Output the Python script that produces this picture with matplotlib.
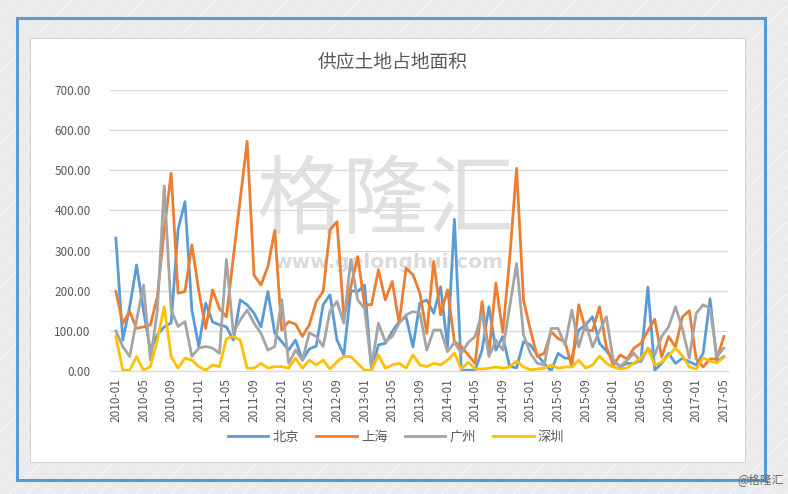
import matplotlib
matplotlib.use("Agg")
import matplotlib.pyplot as plt
from matplotlib.lines import Line2D
from matplotlib.patches import Rectangle
import numpy as np
import pandas as pd

plt.rcParams['font.family'] = ['Noto Sans CJK SC', 'DejaVu Sans']

title = "供应土地占地面积"
months = [str(p) for p in pd.period_range("2010-01", "2017-05", freq="M")]
tick_labels = months[::4]

beijing = [331, 77, 160, 264, 150, 52, 90, 110, 120, 352, 422, 152, 61, 169, 122,
           115, 110, 77, 177, 165, 144, 110, 198, 94, 73, 52, 77, 27, 55, 62,
           165, 190, 77, 40, 200, 198, 214, 2, 65, 69, 98, 123, 135, 60, 169,
           177, 144, 210, 60, 378, 2, 2, 2, 52, 160, 52, 86, 11, 8, 73,
           65, 40, 19, 0, 44, 32, 32, 102, 115, 135, 69, 50, 27, 11, 19,
           19, 27, 209, 2, 19, 44, 19, 32, 23, 15, 44, 180, 23, 36]
shanghai = [198, 119, 148, 106, 110, 115, 185, 352, 493, 194, 198, 314, 200, 106, 202,
            155, 135, 283, 428, 572, 239, 214, 260, 350, 102, 123, 117, 86, 115, 173,
            198, 352, 372, 135, 210, 285, 165, 165, 252, 177, 223, 119, 256, 240, 194,
            94, 273, 140, 202, 73, 61, 40, 19, 173, 44, 219, 96, 280, 505, 177,
            102, 36, 44, 98, 81, 73, 11, 165, 102, 100, 160, 60, 15, 40, 30,
            57, 69, 100, 129, 35, 86, 60, 135, 150, 30, 10, 30, 30, 86]
guangzhou = [100, 61, 36, 127, 214, 27, 150, 461, 152, 111, 123, 36, 57, 61, 57,
             44, 278, 94, 127, 152, 119, 94, 52, 61, 178, 19, 52, 27, 95, 86,
             61, 150, 173, 119, 278, 177, 156, 11, 119, 73, 86, 119, 140, 148, 144,
             52, 102, 102, 48, 71, 44, 71, 86, 144, 36, 77, 52, 160, 268, 90,
             44, 19, 15, 106, 106, 65, 152, 60, 120, 60, 100, 135, 25, 11, 27,
             44, 23, 57, 40, 86, 110, 160, 106, 32, 144, 165, 156, 36, 57]
shenzhen = [86, 2, 2, 36, 2, 11, 77, 160, 36, 7, 32, 27, 11, 2, 15,
            11, 81, 86, 77, 7, 7, 19, 7, 11, 11, 7, 32, 7, 27, 15,
            27, 5, 23, 36, 36, 19, 2, 2, 40, 7, 15, 19, 7, 40, 15,
            11, 19, 15, 27, 45, 5, 22, 5, 5, 7, 10, 7, 10, 25, 10,
            3, 5, 7, 15, 7, 10, 10, 27, 7, 15, 37, 19, 10, 5, 8,
            20, 33, 55, 15, 22, 38, 57, 38, 10, 5, 32, 25, 20, 34]

series = [("北京", beijing, "#5b9bd5"),
          ("上海", shanghai, "#ed7d31"),
          ("广州", guangzhou, "#a5a5a5"),
          ("深圳", shenzhen, "#ffc000")]

W, H = 788, 494
fig = plt.figure(figsize=(W / 100, H / 100), dpi=100)
fig.patch.set_facecolor("#ebebeb")

def fx(px):
    return px / W

def fy(py):
    return 1 - py / H

# diagonal stripes background
for x0 in range(-H, W + 20, 18):
    fig.add_artist(Line2D([fx(x0), fx(x0 + H)], [0, 1], color="#f4f4f4",
                          lw=0.8, zorder=-10, transform=fig.transFigure))

# blue frame
fig.add_artist(Rectangle((fx(17), fy(480)), fx(765) - fx(17), fy(18) - fy(480),
                         transform=fig.transFigure, facecolor="none",
                         edgecolor="#5b9bd5", lw=2.2, zorder=-8))
# white card
fig.add_artist(Rectangle((fx(30), fy(462)), fx(745) - fx(30), fy(38) - fy(462),
                         transform=fig.transFigure, facecolor="white",
                         edgecolor="#d4d4d4", lw=0.8, zorder=-7))

# watermark
fig.text(fx(386), fy(203), "格隆汇", ha="center", va="center", fontsize=62,
         color="#e0e0e0", zorder=-6)
fig.text(fx(388), fy(262), "www.gelonghui.com", ha="center", va="center",
         fontsize=14.5, color="#dadada", fontweight="bold", zorder=-6,
         family=["DejaVu Sans"])

ax = fig.add_axes([fx(110), fy(371), fx(728) - fx(110), fy(90) - fy(371)])
ax.set_facecolor("none")
x = np.arange(len(months))
for name, vals, col in series:
    ax.plot(x, vals, color=col, lw=2.0, label=name, solid_joinstyle="round")

ax.set_xlim(-0.85, len(months) - 1 + 0.6)
ax.set_ylim(0, 700)
ax.set_yticks(np.arange(0, 701, 100))
ax.set_yticklabels([f"{v:.2f}" for v in np.arange(0, 701, 100)])
ax.set_xticks(x[::4])
ax.set_xticklabels(tick_labels, rotation=90)
ax.grid(axis="y", color="#d9d9d9", lw=0.9)
ax.set_axisbelow(True)
for s in ["top", "right", "left"]:
    ax.spines[s].set_visible(False)
ax.spines["bottom"].set_color("#d9d9d9")
ax.tick_params(axis="both", length=0, colors="#595959", labelsize=8.5)
ax.tick_params(axis="y", pad=14)
ax.tick_params(axis="x", pad=5)

fig.text(fx(393), fy(62), title, ha="center", va="center", fontsize=13.5,
         color="#595959")

leg = fig.legend(loc="center", bbox_to_anchor=(fx(396), fy(437)), ncol=4,
                 frameon=False, fontsize=9.5, handlelength=3.1,
                 columnspacing=1.3, handletextpad=0.3)
for t in leg.get_texts():
    t.set_color("#595959")

fig.text(fx(784), fy(480), "@格隆汇", ha="right", va="center", fontsize=8.5,
         color="#666666")

fig.savefig("out.png", dpi=100)
